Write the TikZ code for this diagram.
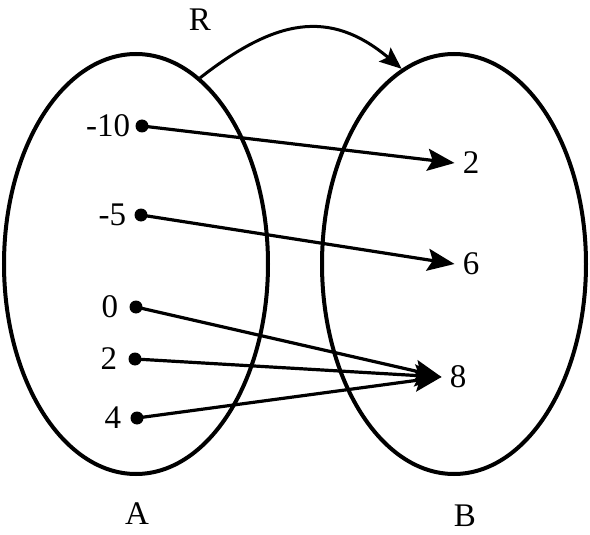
\documentclass[tikz,border=0pt]{standalone}
\usepackage{fontspec}
\setmainfont{Liberation Serif}
\usetikzlibrary{shapes.geometric,arrows.meta,positioning}
\tikzstyle{set} = [ellipse, draw, line width=4pt, inner sep=0pt, minimum width=264pt, minimum height=420pt]
\tikzstyle{elem} = [circle, fill, inner sep=0pt, minimum size=13pt]
\tikzstyle{num} = [inner sep=0pt, font=\fontsize{33}{40}\selectfont]
\tikzstyle{image} = [inner xsep=8pt, inner ysep=0pt, font=\fontsize{33}{40}\selectfont]
\tikzstyle{map} = [line width=3.2pt, -{Stealth[length=27pt,width=22pt,inset=5pt]}]
\tikzstyle{rel} = [line width=3pt, -{Stealth[length=22pt,width=18pt,inset=4pt]}]

\begin{document}
\begin{tikzpicture}[x=1pt,y=-1pt]
    \useasboundingbox (0,0) rectangle (590,535);
    \node [set] (setA) at (136,264) {};
    \node [set] (setB) at (454,264) {};

    \node [elem] (a1) at (142,126) {};
    \node [elem] (a2) at (141,215) {};
    \node [elem] (a3) at (136,307) {};
    \node [elem] (a4) at (135,359) {};
    \node [elem] (a5) at (137,418) {};
    \node [num, left=5pt of a1] (la1) {-10};
    \node [num, left=8pt of a2] (la2) {-5};
    \node [num, left=11pt of a3] (la3) {0};
    \node [num, left=11pt of a4] (la4) {2};
    \node [num, left=9pt of a5] (la5) {4};

    \node [image] (b1) at (471,163) {2};
    \node [image] (b2) at (471,264) {6};
    \node [image] (b3) at (458,377) {8};

    \node [num] (nameA) at (137,514) {A};
    \node [num] (nameB) at (465,516) {B};
    \node [num] (nameR) at (200,20) {R};

     \draw[map](a1.center) -- (b1.west);
     \draw[map](a2.center) -- (b2.west);
     \draw[map](a3.center) -- (b3.west);
     \draw[map](a4.center) -- (b3.west);
     \draw[map](a5.center) -- (b3.west);

     \draw[rel](setA.71) to[out=38,in=140,looseness=1.2] (setB.105);
\end{tikzpicture}
\end{document}
